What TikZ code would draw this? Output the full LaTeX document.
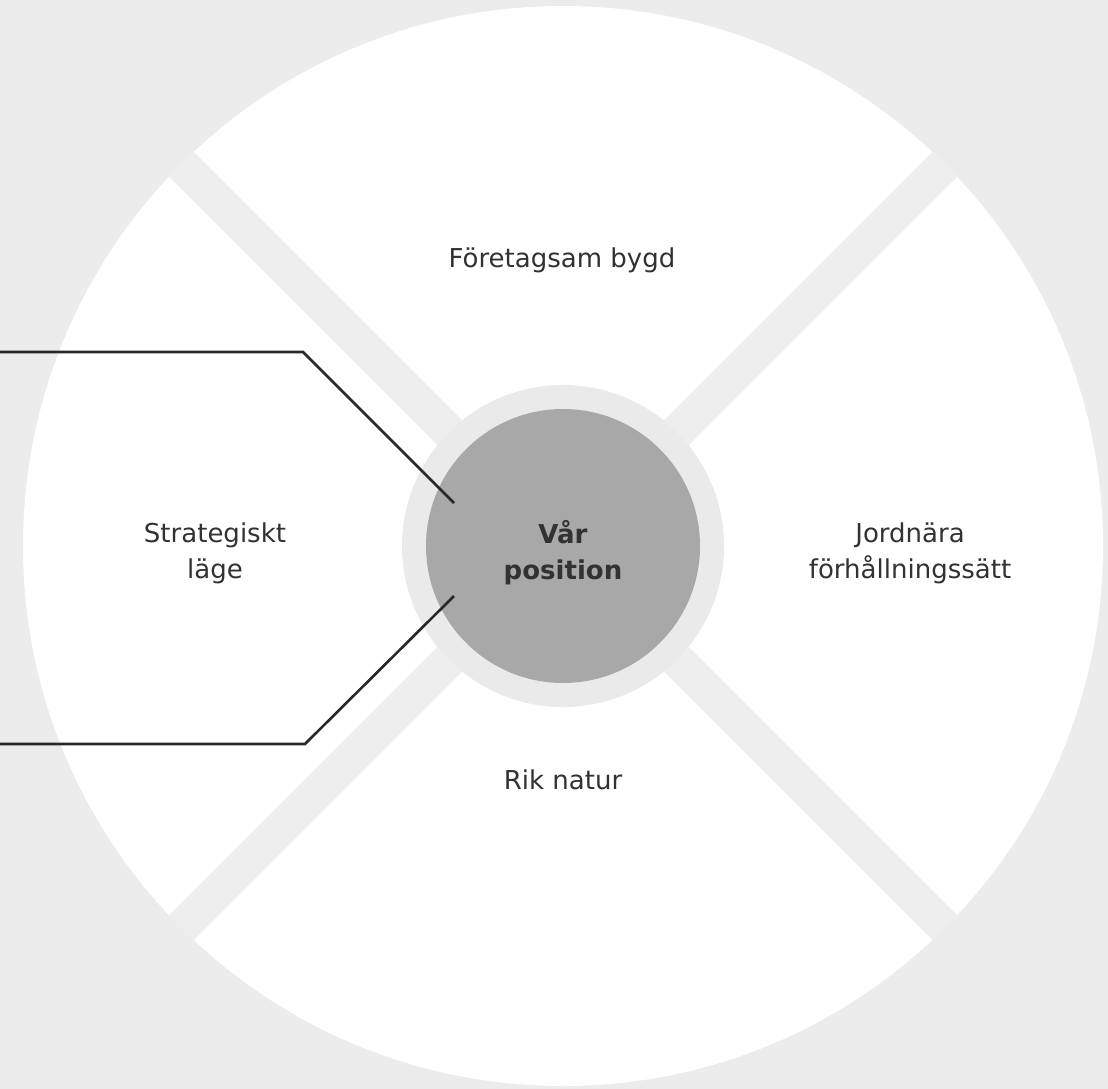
\documentclass[tikz,border=0pt]{standalone}
\usepackage{fontspec}
\setmainfont{DejaVu Sans}
\definecolor{bgGray}{RGB}{236,236,236}
\definecolor{bandGray}{RGB}{238,238,238}
\definecolor{ringGray}{RGB}{234,234,234}
\definecolor{coreGray}{RGB}{168,168,168}
\definecolor{textGray}{RGB}{50,50,50}
\begin{document}
\begin{tikzpicture}[x=1pt, y=-1pt,
    sector text/.style={text=textGray, font=\fontsize{26}{36}\selectfont, align=center, inner sep=0pt},
    core text/.style={sector text, font=\fontsize{26}{36}\selectfont\bfseries},
    bracket/.style={line width=2.6pt, draw={rgb,255:red,40;green,40;blue,40}}]
    % Background
    \fill[bgGray] (0,0) rectangle (1108,1089);
    \useasboundingbox (0,0) rectangle (1108,1089);

    % Outer disc, cut into four sectors by the diagonal bands
    \fill[white] (563,546) circle (540pt);
    \begin{scope}
        \clip (563,546) circle (540pt);
        \draw[bandGray, line width=35pt] (163,146) -- (963,946);
        \draw[bandGray, line width=35pt] (963,146) -- (163,946);
    \end{scope}

    % Centre: ring and core
    \fill[ringGray] (563,546) circle (161pt);
    \fill[coreGray] (563,546) circle (137pt);

    % Sector labels
    \node[sector text] (top) at (562,260) {Företagsam bygd};
    \node[sector text] (left) at (215,553) {Strategiskt\\läge};
    \node[sector text] (right) at (910,553) {Jordnära\\förhållningssätt};
    \node[sector text] (bottom) at (563,780) {Rik natur};
    \node[core text] (pos) at (563,553) {Vår\\position};

    % Bracket from the left edge to the core
    \coordinate (upEnd) at (0,352);
    \coordinate (upBend) at (303,352);
    \coordinate (upTip) at (454,503);
    \coordinate (lowEnd) at (0,744);
    \coordinate (lowBend) at (305,744);
    \coordinate (lowTip) at (454,596);
    \draw[bracket] (upEnd) -- (upBend) -- (upTip);
    \draw[bracket] (lowEnd) -- (lowBend) -- (lowTip);
\end{tikzpicture}
\end{document}
